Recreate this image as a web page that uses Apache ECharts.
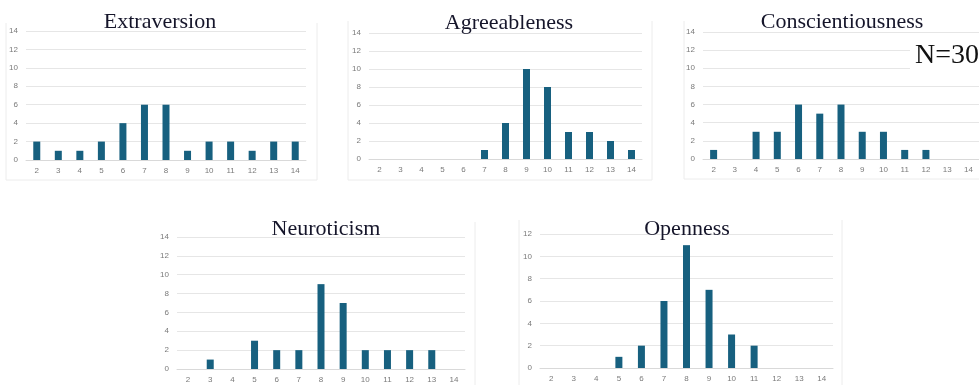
<!DOCTYPE html>
<html>
<head>
<meta charset="utf-8">
<script src="https://cdn.jsdelivr.net/npm/echarts@6/dist/echarts.min.js"></script>
<style>
html,body{margin:0;padding:0;background:#fff;}
#c{width:979px;height:385px;}
</style>
</head>
<body>
<div id="c"></div>
<script>
const categories = ['2','3','4','5','6','7','8','9','10','11','12','13','14'];
const extraversion      = [2,1,1,2,4,6,6,1,2,2,1,2,2];
const agreeableness     = [0,0,0,0,0,1,4,10,8,3,3,2,1];
const conscientiousness = [1,0,3,3,6,5,6,3,3,1,1,0,0];
const neuroticism       = [0,1,0,3,2,2,9,7,2,2,2,2,0];
const openness          = [0,0,0,1,2,6,11,7,3,2,0,0,0];
const titles = ['Extraversion','Agreeableness','Conscientiousness','Neuroticism','Openness'];
const yMax = [14,14,14,14,12];
const sampleLabel = 'N=30';

const seriesData = [extraversion, agreeableness, conscientiousness, neuroticism, openness];
const grids = [
  {left:26,  top:31,  width:280, height:129},
  {left:369, top:33,  width:273, height:126},
  {left:703, top:32,  width:277, height:127},
  {left:177, top:237, width:288, height:132},
  {left:540, top:234, width:293, height:134}
];
const titlePos = [
  {x:155, y:17},{x:504, y:18},{x:837, y:17},{x:321, y:224},{x:682, y:224}
];
const BAR = '#17607f';
const chart = echarts.init(document.getElementById('c'), null, {renderer:'canvas'});

const option = {
  animation:false,
  backgroundColor:'#ffffff',
  title: titles.map((t,i)=>({
    text:t, left:titlePos[i].x, top:titlePos[i].y, textAlign:'center', textVerticalAlign:'middle',
    textStyle:{fontFamily:'Liberation Serif', fontWeight:'normal', fontSize:22, color:'#15152a'}
  })).concat([{
    text:sampleLabel, left:910, top:40, backgroundColor:'#ffffff', padding:[2,4,2,5],
    textStyle:{fontFamily:'Liberation Serif', fontWeight:'normal', fontSize:28, color:'#111'}
  }]),
  grid: grids.map(g=>Object.assign({containLabel:false}, g)),
  xAxis: grids.map((g,i)=>({
    type:'category', gridIndex:i, data:categories,
    axisTick:{show:false},
    axisLine:{lineStyle:{color:'#d9d9d9'}},
    axisLabel:{color:'#7a7a7a', fontSize:8, margin:7, fontFamily:'Liberation Sans', interval:0}
  })),
  yAxis: grids.map((g,i)=>({
    type:'value', gridIndex:i, min:0, max:yMax[i], interval:2,
    axisLine:{show:false}, axisTick:{show:false},
    splitLine:{lineStyle:{color:'#e6e6e6'}},
    axisLabel:{color:'#7a7a7a', fontSize:8, margin:8, fontFamily:'Liberation Sans'}
  })),
  series: seriesData.map((d,i)=>({
    type:'bar', xAxisIndex:i, yAxisIndex:i, data:d, barWidth:7,
    itemStyle:{color:BAR, borderWidth:0}
  })),
  graphic: [
    {type:'polyline', shape:{points:[[6,23],[6,180],[317,180],[317,23]]}, style:{stroke:'#ececec', fill:null, lineWidth:1}},
    {type:'polyline', shape:{points:[[348,21],[348,180],[652,180],[652,21]]}, style:{stroke:'#ececec', fill:null, lineWidth:1}},
    {type:'polyline', shape:{points:[[684,21],[684,179],[979,179]]}, style:{stroke:'#ececec', fill:null, lineWidth:1}},
    {type:'line', shape:{x1:475,y1:222,x2:475,y2:385}, style:{stroke:'#ececec', lineWidth:1}},
    {type:'line', shape:{x1:519,y1:220,x2:519,y2:385}, style:{stroke:'#ececec', lineWidth:1}},
    {type:'line', shape:{x1:842,y1:220,x2:842,y2:385}, style:{stroke:'#ececec', lineWidth:1}}
  ]
};
chart.setOption(option);
</script>
</body>
</html>
